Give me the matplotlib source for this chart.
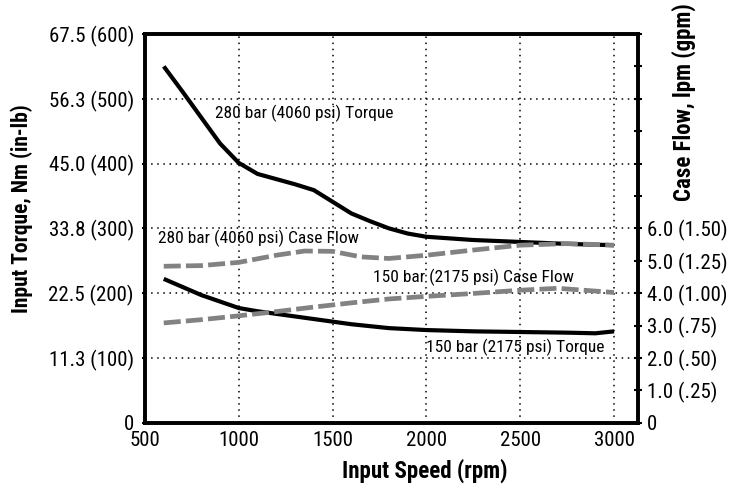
import matplotlib
matplotlib.use("Agg")
import matplotlib.pyplot as plt
from matplotlib import font_manager

# ---- data ----
rpm_t280 = [600, 700, 800, 900, 1000, 1100, 1200, 1300, 1400, 1500, 1600, 1700, 1800, 1900, 2000, 2250, 2500, 2750, 3000]
torque_280 = [550, 511, 471, 431, 401, 384, 376, 368, 359, 341, 323, 311, 300, 292, 287, 282, 279, 276, 274]

rpm_t150 = [600, 800, 1000, 1100, 1200, 1400, 1600, 1800, 2000, 2250, 2500, 2750, 2900, 3000]
torque_150 = [222, 197, 177, 172, 168, 160, 152, 146, 143, 141, 140, 139, 138, 141]

rpm_f280 = [600, 800, 1000, 1200, 1350, 1500, 1650, 1800, 2000, 2250, 2500, 2750, 3000]
flow_280 = [4.83, 4.85, 4.95, 5.17, 5.30, 5.29, 5.12, 5.07, 5.17, 5.33, 5.48, 5.53, 5.48]

rpm_f150 = [600, 800, 1000, 1200, 1400, 1600, 1800, 2000, 2250, 2500, 2700, 3000]
flow_150 = [3.08, 3.18, 3.30, 3.43, 3.57, 3.70, 3.82, 3.90, 3.99, 4.09, 4.15, 4.02]

x_ticks = [500, 1000, 1500, 2000, 2500, 3000]
left_ticks = [0, 100, 200, 300, 400, 500, 600]
left_labels = ["0", "11.3 (100)", "22.5 (200)", "33.8 (300)", "45.0 (400)", "56.3 (500)", "67.5 (600)"]
right_ticks = [0, 1, 2, 3, 4, 5, 6, 7, 8, 9, 10, 11, 12]
right_labels = ["0", "1.0 (.25)", "2.0 (.50)", "3.0 (.75)", "4.0 (1.00)", "5.0 (1.25)", "6.0 (1.50)",
                "", "", "", "", "", ""]

# ---- fonts ----
avail = {f.name for f in font_manager.fontManager.ttflist}
stretch = "normal"
fam = None
for cand in ["Liberation Sans Narrow", "Arial Narrow", "Roboto Condensed", "Archivo Narrow", "PT Sans Narrow"]:
    if cand in avail:
        fam = [cand, "DejaVu Sans"]
        break
if fam is None:
    fam = ["DejaVu Sans"]
    stretch = "condensed"
plt.rcParams['font.family'] = fam
plt.rcParams['font.stretch'] = stretch

fig = plt.figure(figsize=(7.46, 4.91), dpi=100)
ax = fig.add_axes([145/746, 1-422.7/491, (637.5-145)/746, (422.7-34)/491])
ax2 = ax.twinx()

ax.set_xlim(500, 3125)
ax.set_ylim(0, 600)
ax2.set_ylim(0, 12)

# grid (dotted)
grid_kw = dict(color="black", lw=1.1, linestyle=(0, (1, 3)), zorder=1)
for xv in [1000, 1500, 2000, 2500, 3000]:
    ax.axvline(xv, **grid_kw)
for yv in [100, 200, 300, 400, 500]:
    ax.axhline(yv, **grid_kw)

ax.plot(rpm_t280, torque_280, color="black", lw=3.0, solid_capstyle="butt", zorder=3)
ax.plot(rpm_t150, torque_150, color="black", lw=3.0, solid_capstyle="butt", zorder=3)

ax2.plot(rpm_f280, flow_280, color="#828282", lw=3.4, dashes=(3.6, 1.1), dash_capstyle="butt", zorder=4)
ax2.plot(rpm_f150, flow_150, color="#828282", lw=3.4, dashes=(3.6, 1.1), dash_capstyle="butt", zorder=4)

# ticks
ax.set_xticks(x_ticks)
ax.set_xticklabels([str(v) for v in x_ticks], fontsize=15)
ax.set_yticks(left_ticks)
ax.set_yticklabels(left_labels, fontsize=15)
ax.tick_params(axis="x", length=0, pad=6)
ax.tick_params(axis="y", length=2, width=1.5, direction="out", pad=6)
ax2.set_yticks(right_ticks)
ax2.set_yticklabels(right_labels, fontsize=15)
ax2.tick_params(axis="y", length=6, width=1.5, direction="inout", pad=4)

for a in (ax, ax2):
    for s in a.spines.values():
        s.set_linewidth(2.6)
        s.set_color("black")

# annotations
tkw = dict(fontsize=12.5, va="center", ha="center", zorder=5)
ax.text(1347, 478, "280 bar (4060 psi) Torque", **tkw)
ax.text(1104, 284, "280 bar (4060 psi) Case Flow", **tkw)
ax.text(2249, 225, "150 bar (2175 psi) Case Flow", **tkw)
ax.text(2474, 116, "150 bar (2175 psi) Torque", **tkw)

# axis titles
fig.text(425/746, 1-471/491, "Input Speed (rpm)", fontsize=16.5, fontweight="bold", ha="center", va="center")
fig.text(22/746, 1-209/491, "Input Torque, Nm (in-lb)", fontsize=15.5, fontweight="bold",
         rotation=90, ha="center", va="center")
fig.text(684/746, 1-102/491, "Case Flow, lpm (gpm)", fontsize=16.5, fontweight="bold",
         rotation=90, ha="center", va="center")

fig.savefig("out.png", dpi=100)
